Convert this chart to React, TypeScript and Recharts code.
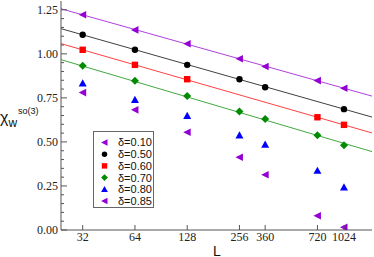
import React from 'react';
import { ComposedChart, Scatter, Line, XAxis, YAxis, Legend, Label } from 'recharts';

const L_VALUES = [32, 64, 128, 256, 360, 720, 1024];
const chi010 = [1.222, 1.136, 1.057, 0.972, 0.928, 0.848, 0.805];
const chi050 = [1.108, 1.023, 0.9375, 0.856, 0.81, null, 0.686];
const chi060 = [1.023, 0.9375, 0.856, null, null, 0.64, 0.597];
const chi070 = [0.932, 0.847, 0.761, 0.672, 0.63, 0.538, 0.481];
const chi080 = [0.833, 0.739, 0.648, 0.538, 0.485, 0.337, 0.243];
const chi085 = [0.78, 0.682, 0.555, 0.413, 0.314, 0.081, 0.015];

const FIT_L = [24, 1485];
const fit010 = [1.256, 0.76];
const fit050 = [1.143, 0.641];
const fit060 = [1.058, 0.551];
const fit070 = [0.967, 0.445];

const X_TICKS = [32, 64, 128, 256, 360, 720, 1024];
const Y_TICKS = [0, 0.05, 0.1, 0.15, 0.2, 0.25, 0.3, 0.35, 0.4, 0.45, 0.5, 0.55, 0.6, 0.65, 0.7, 0.75, 0.8, 0.85, 0.9, 0.95, 1.0, 1.05, 1.1, 1.15, 1.2, 1.25];
const LEGEND_LABELS = ['δ=0.10', 'δ=0.50', 'δ=0.60', 'δ=0.70', 'δ=0.80', 'δ=0.85'];

const VIOLET = '#9400d3';
const BLACK = '#000000';
const RED = '#ff0000';
const GREEN = '#008b00';
const BLUE = '#0000ff';
const AX = '#555';

const toPts = (vals: (number | null)[]) =>
  L_VALUES.map((L, i) => ({ L, v: vals[i] })).filter((p) => p.v !== null);
const toFit = (vals: number[]) => FIT_L.map((L, i) => ({ L, v: vals[i] }));

type Kind = 'left' | 'circle' | 'square' | 'diamond' | 'up';

const SERIES: { name: string; data: any[]; kind: Kind; color: string }[] = [
  { name: LEGEND_LABELS[0], data: toPts(chi010), kind: 'left', color: VIOLET },
  { name: LEGEND_LABELS[1], data: toPts(chi050), kind: 'circle', color: BLACK },
  { name: LEGEND_LABELS[2], data: toPts(chi060), kind: 'square', color: RED },
  { name: LEGEND_LABELS[3], data: toPts(chi070), kind: 'diamond', color: GREEN },
  { name: LEGEND_LABELS[4], data: toPts(chi080), kind: 'up', color: BLUE },
  { name: LEGEND_LABELS[5], data: toPts(chi085), kind: 'left', color: VIOLET },
];

const FITS = [
  { data: toFit(fit010), color: VIOLET },
  { data: toFit(fit050), color: BLACK },
  { data: toFit(fit060), color: RED },
  { data: toFit(fit070), color: GREEN },
];

function Marker({ kind, cx, cy, color, s = 1 }: { kind: Kind; cx: number; cy: number; color: string; s?: number }) {
  if (cx == null || cy == null) return null;
  switch (kind) {
    case 'left':
      return <polygon points={`${cx - 4 * s},${cy} ${cx + 3.5 * s},${cy - 3.8 * s} ${cx + 3.5 * s},${cy + 3.8 * s}`} fill={color} />;
    case 'circle':
      return <circle cx={cx} cy={cy} r={3.2 * s} fill={color} />;
    case 'square':
      return <rect x={cx - 3.2 * s} y={cy - 3.2 * s} width={6.4 * s} height={6.4 * s} fill={color} />;
    case 'diamond':
      return <polygon points={`${cx},${cy - 4 * s} ${cx + 4 * s},${cy} ${cx},${cy + 4 * s} ${cx - 4 * s},${cy}`} fill={color} />;
    case 'up':
      return <polygon points={`${cx},${cy - 4 * s} ${cx + 4 * s},${cy + 3.2 * s} ${cx - 4 * s},${cy + 3.2 * s}`} fill={color} />;
  }
  return null;
}

const tickFont = { fontFamily: 'Liberation Serif', fontSize: 12, fill: '#222' };

function BottomTick(props: any) {
  const { x, y, payload } = props;
  return (
    <g>
      <line x1={x} x2={x} y1={y} y2={y - 5} stroke={AX} />
      <text x={x} y={y + 11} textAnchor="middle" {...tickFont}>{payload.value}</text>
    </g>
  );
}
function TopTick(props: any) {
  const { x, y } = props;
  return <line x1={x} x2={x} y1={y} y2={y + 5} stroke={AX} />;
}
const isMajor = (v: number) => Math.abs(v / 0.25 - Math.round(v / 0.25)) < 1e-6;
function LeftTick(props: any) {
  const { x, y, payload } = props;
  const v = payload.value as number;
  const major = isMajor(v);
  return (
    <g>
      <line x1={x} x2={x + (major ? 6 : 3)} y1={y} y2={y} stroke={AX} />
      {major && (
        <text x={x - 3} y={y} dy="0.35em" textAnchor="end" {...tickFont}>{v.toFixed(2)}</text>
      )}
    </g>
  );
}
function RightTick(props: any) {
  const { x, y, payload } = props;
  const major = isMajor(payload.value);
  return <line x1={x} x2={x - (major ? 6 : 3)} y1={y} y2={y} stroke={AX} />;
}

function YTitle() {
  return (
    <text x={0} y={123} fontFamily="Liberation Sans" fontSize={16} fill="#111">
      χ
      <tspan dy={4} fontSize={12}>w</tspan>
      <tspan dy={-13} dx={1} fontSize={9}>so(3)</tspan>
    </text>
  );
}
function XTitle() {
  return (
    <text x={217} y={255.5} textAnchor="middle" fontFamily="Liberation Sans" fontSize={14} fill="#111">L</text>
  );
}

function LegendBox() {
  return (
    <div
      style={{
        border: '1px solid #666',
        background: '#fff',
        width: 61,
        height: 77,
        boxSizing: 'border-box',
        paddingTop: 3,
      }}
    >
      <svg width={59} height={72} style={{ display: 'block' }}>
        {SERIES.map((s, i) => (
          <g key={s.name}>
            <Marker kind={s.kind} cx={10.5} cy={7.5 + i * 11.7} color={s.color} s={0.85} />
            <text x={24} y={7.5 + i * 11.7} dy="0.36em" fontFamily="Liberation Sans" fontSize={11} fill="#111">
              {s.name}
            </text>
          </g>
        ))}
      </svg>
    </div>
  );
}

export default function App() {
  return (
    <div style={{ position: 'absolute', left: 0, top: 0, width: 374, height: 257, background: '#fff' }}>
      <ComposedChart width={374} height={257} margin={{ top: 1, right: 2, left: 0, bottom: 0 }}>
        <XAxis
          xAxisId="b"
          dataKey="L"
          type="number"
          scale="log"
          domain={[24, 1485]}
          allowDataOverflow
          ticks={X_TICKS}
          interval={0}
          tickSize={0}
          tickMargin={0}
          tickLine={false}
          axisLine={{ stroke: AX }}
          height={27}
          tick={<BottomTick />}
        >
          <Label content={<XTitle />} />
        </XAxis>
        <XAxis
          xAxisId="t"
          orientation="top"
          dataKey="L"
          type="number"
          scale="log"
          domain={[24, 1485]}
          allowDataOverflow
          ticks={X_TICKS}
          interval={0}
          tickSize={0}
          tickMargin={0}
          tickLine={false}
          axisLine={{ stroke: AX }}
          height={0}
          tick={<TopTick />}
        />
        <YAxis
          yAxisId="l"
          dataKey="v"
          type="number"
          domain={[0, 1.3]}
          allowDataOverflow
          ticks={Y_TICKS}
          interval={0}
          tickSize={0}
          tickMargin={0}
          tickLine={false}
          axisLine={{ stroke: AX }}
          width={61}
          tick={<LeftTick />}
        >
          <Label content={<YTitle />} />
        </YAxis>
        <YAxis
          yAxisId="r"
          orientation="right"
          dataKey="v"
          type="number"
          domain={[0, 1.3]}
          allowDataOverflow
          ticks={Y_TICKS}
          interval={0}
          tickSize={0}
          tickMargin={0}
          tickLine={false}
          axisLine={{ stroke: AX }}
          width={0}
          tick={<RightTick />}
        />
        {FITS.map((f, i) => (
          <Line
            key={'fit' + i}
            xAxisId="b"
            yAxisId="l"
            data={f.data}
            dataKey="v"
            stroke={f.color}
            strokeWidth={1}
            strokeOpacity={0.75}
            dot={false}
            activeDot={false}
            legendType="none"
            isAnimationActive={false}
          />
        ))}
        {SERIES.map((s) => (
          <Scatter
            key={s.name}
            name={s.name}
            xAxisId="b"
            yAxisId="l"
            data={s.data}
            dataKey="v"
            fill={s.color}
            isAnimationActive={false}
            shape={(p: any) => <Marker kind={s.kind} cx={p.cx} cy={p.cy} color={s.color} />}
          />
        ))}
        <Legend
          layout="vertical"
          align="center"
          verticalAlign="middle"
          content={<LegendBox />}
          wrapperStyle={{ position: 'absolute', left: 93, top: 131, width: 61, height: 77 }}
        />
      </ComposedChart>
    </div>
  );
}
